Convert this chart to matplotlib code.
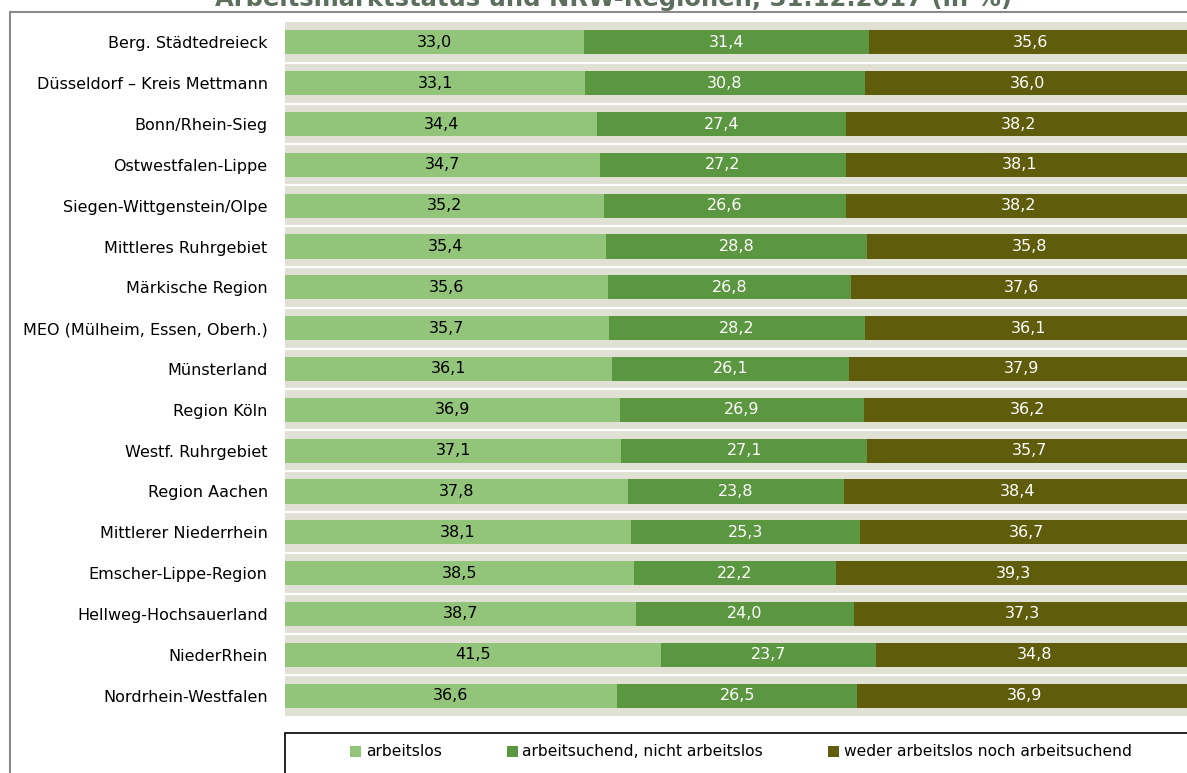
import numpy as np
import matplotlib.pyplot as plt
from matplotlib.patches import Rectangle, Patch

regions = [
    'Berg. Städtedreieck',
    'Düsseldorf – Kreis Mettmann',
    'Bonn/Rhein-Sieg',
    'Ostwestfalen-Lippe',
    'Siegen-Wittgenstein/Olpe',
    'Mittleres Ruhrgebiet',
    'Märkische Region',
    'MEO (Mülheim, Essen, Oberh.)',
    'Münsterland',
    'Region Köln',
    'Westf. Ruhrgebiet',
    'Region Aachen',
    'Mittlerer Niederrhein',
    'Emscher-Lippe-Region',
    'Hellweg-Hochsauerland',
    'NiederRhein',
    'Nordrhein-Westfalen',
]
arbeitslos = [33.0, 33.1, 34.4, 34.7, 35.2, 35.4, 35.6, 35.7, 36.1, 36.9,
              37.1, 37.8, 38.1, 38.5, 38.7, 41.5, 36.6]
arbeitsuchend = [31.4, 30.8, 27.4, 27.2, 26.6, 28.8, 26.8, 28.2, 26.1, 26.9,
                 27.1, 23.8, 25.3, 22.2, 24.0, 23.7, 26.5]
weder = [35.6, 36.0, 38.2, 38.1, 38.2, 35.8, 37.6, 36.1, 37.9, 36.2,
         35.7, 38.4, 36.7, 39.3, 37.3, 34.8, 36.9]

series_names = ['arbeitslos', 'arbeitsuchend, nicht arbeitslos',
                'weder arbeitslos noch arbeitsuchend']
colors = ['#92c57a', '#5b9640', '#5f5c0b']
text_colors = ['black', 'white', 'white']

plt.rcParams['font.family'] = ['DejaVu Sans']

W, H = 1187, 773
fig = plt.figure(figsize=(W / 100, H / 100), dpi=100)

# outer chart frame (cut off at right/bottom)
fig.patches.append(Rectangle((10 / W, -0.1), 1.2, 1 - 12 / H + 0.1,
                             transform=fig.transFigure, fill=False,
                             edgecolor='#8a8a8a', linewidth=1.5))

fig.text(614 / W, 1 - 6 / H, 'Arbeitsmarktstatus und NRW-Regionen, 31.12.2017 (in %)',
         ha='center', va='baseline', fontsize=17.5, fontweight='bold', color='#5e6e5e')

ax_left, ax_right = 285, 1192
ax_top, ax_bottom = 22, 716
ax = fig.add_axes([ax_left / W, 1 - ax_bottom / H, (ax_right - ax_left) / W,
                   (ax_bottom - ax_top) / H])
ax.set_facecolor('#e0e0d4')

y = np.arange(len(regions))
data = [arbeitslos, arbeitsuchend, weder]
left = np.zeros(len(regions))
for vals, c, tc, name in zip(data, colors, text_colors, series_names):
    vals = np.array(vals)
    ax.barh(y, vals, left=left, height=0.59, color=c, label=name, zorder=3)
    for yi, l, v in zip(y, left, vals):
        ax.text(l + v / 2, yi, f'{v:.1f}'.replace('.', ','), ha='center', va='center',
                color=tc, fontsize=11.5, zorder=4)
    left += vals

for k in range(len(regions) - 1):
    ax.axhline(k + 0.5, color='white', linewidth=1.6, zorder=2)

ax.set_xlim(0, 100)
ax.set_ylim(len(regions) - 0.5, -0.5)
ax.set_yticks(y)
ax.set_yticklabels(regions, fontsize=11.5)
ax.set_xticks([])
ax.tick_params(axis='y', length=0, pad=12.5)
for s in ax.spines.values():
    s.set_visible(False)

# legend box
fig.patches.append(Rectangle((285 / W, -0.1), 1.2, 0.1 + 1 - 733 / H,
                             transform=fig.transFigure, fill=False,
                             edgecolor='black', linewidth=1.2))
handles = [Patch(facecolor=c, edgecolor='none') for c in colors]
fig.legend(handles, series_names, loc='center', bbox_to_anchor=(741 / W, 1 - 752 / H),
           ncol=3, frameon=False, fontsize=11.2, handlelength=0.7, handleheight=0.7,
           handletextpad=0.3, columnspacing=4.2)

fig.savefig('out.png', dpi=100)
